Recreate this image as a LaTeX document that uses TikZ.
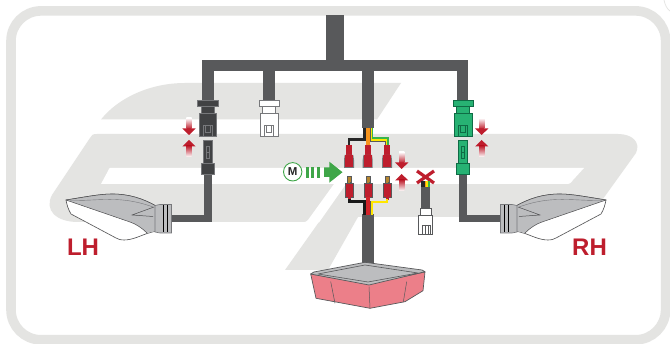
\documentclass[tikz,border=0pt]{standalone}
\usepackage{fontspec}
\setmainfont{Liberation Sans}
\definecolor{bggray}{HTML}{E4E4E2}
\definecolor{wire}{HTML}{58595B}
\definecolor{conndark}{HTML}{414244}
\definecolor{connedge}{HTML}{77787B}
\definecolor{conngreen}{HTML}{27B273}
\definecolor{greenedge}{HTML}{0F6B45}
\definecolor{redmain}{HTML}{BE1E2D}
\definecolor{mgreen}{HTML}{3FA648}
\definecolor{lampgray}{HTML}{BCBDBF}
\definecolor{lampedge}{HTML}{4D4D4F}
\definecolor{pinklamp}{HTML}{EC7F89}
\definecolor{gold}{HTML}{B5852E}
\definecolor{wirered}{HTML}{D2232A}
\definecolor{wireorange}{HTML}{F7941D}
\definecolor{wireyellow}{HTML}{FFE600}
\definecolor{wiregreen}{HTML}{39B54A}
\tikzset{
  wireline/.style={draw=wire,line width=#1,line cap=butt,line join=miter},
  lamptext/.style={text=redmain,font=\bfseries\fontsize{24}{24}\selectfont,inner sep=0pt},
  bgfill/.style={fill=bggray,draw=none},
  wh/.style={fill=white,draw=none},
  redfill/.style={fill=redmain,draw=none}
}
% female connector: x centre, fill, edge
\newcommand{\femconn}[3]{%
  \begin{scope}[shift={(#1,0)},fill=#2,draw=#3,line width=0.6pt]
    \filldraw (-10.2,100) rectangle (10.2,106);
    \filldraw (-6.5,106) rectangle (6.5,113);
    \filldraw (-8.8,113) rectangle (8.8,136);
    \draw (-4.5,136) -- (-4.5,125) -- (4,125) -- (4,136);
    \draw (-2.8,125.5) rectangle (2.2,132);
  \end{scope}}
% male connector: x centre, fill, edge
\newcommand{\maleconn}[3]{%
  \begin{scope}[shift={(#1,0)},fill=#2,draw=#3,line width=0.6pt]
    \filldraw (-4.2,140) rectangle (4.2,163);
    \draw (-1.6,146) rectangle (1.8,158);
    \draw (-1.6,152) -- (1.8,152);
    \filldraw (-6.5,163) rectangle (6.5,174);
  \end{scope}}
% pair of closing arrows: x centre, y of down tip
\newcommand{\arrowpair}[2]{%
  \begin{scope}[shift={(#1,#2)}]
    \shade[top color=white,middle color=redmain,bottom color=redmain,draw=none] (-2.6,-17) rectangle (2.6,-6);
    \fill[redmain] (-6.6,-6.5) -- (6.6,-6.5) -- (0,0) -- cycle;
    \fill[redmain] (-6.6,11.5) -- (6.6,11.5) -- (0,5) -- cycle;
    \shade[top color=redmain,middle color=redmain,bottom color=white,draw=none] (-2.6,11) rectangle (2.6,22);
  \end{scope}}
% upper bullet connector
\newcommand{\topbullet}[1]{%
  \begin{scope}[shift={(#1,0)}]
    \fill[redmain] (-2.9,145) rectangle (2.9,155);
    \fill[connedge] (-4.3,155) -- (4.3,155) -- (5,160) -- (5,168) -- (-5,168) -- (-5,160) -- cycle;
    \fill[redmain] (-4.1,155) rectangle (4.1,167);
  \end{scope}}
% lower bullet connector
\newcommand{\botbullet}[1]{%
  \begin{scope}[shift={(#1,0)}]
    \filldraw[fill=gold,draw=wire,line width=0.3pt] (-2.2,176.5) rectangle (2.2,182);
    \fill[gold] (-1,182) rectangle (1,184);
    \filldraw[fill=redmain,draw=wire,line width=0.4pt] (-3.7,183) rectangle (3.7,197);
    \fill[redmain] (-1.5,197) rectangle (1.5,200);
  \end{scope}}
% turn-signal lamp
\newcommand{\lampdraw}{%
  \filldraw[fill=white,draw=lampedge,line width=0.6pt]
    (66,200) .. controls (85,197) and (100,194) .. (112,194)
    .. controls (128,194) and (142,198) .. (156,206)
    -- (156,231) -- (147,233.5)
    .. controls (140,236) and (132,240) .. (124,240)
    .. controls (120,240) and (118,239) .. (116,238)
    -- (71,214) .. controls (68,209) and (67,205) .. (66,200) -- cycle;
  \fill[lampgray,draw=none]
    (66,200) .. controls (85,197) and (100,194) .. (112,194)
    .. controls (128,194) and (142,198) .. (156,206)
    -- (156,231) -- (147,233)
    .. controls (142,228) and (136,224) .. (130,222)
    -- cycle;
  \draw[lampedge,line width=0.5pt]
    (66,200) .. controls (85,197) and (100,194) .. (112,194)
    .. controls (128,194) and (142,198) .. (156,206);
  \draw[lampedge,line width=0.5pt] (66,200) -- (130,222) .. controls (136,224) and (142,228) .. (147,233);
  \draw[connedge,line width=0.4pt] (70,200.5) .. controls (100,201) and (120,195) .. (153,207);
  \draw[lampedge,line width=0.5pt] (154,207) -- (132,215) -- (153,216.5);
  \filldraw[fill=lampgray,draw=connedge,line width=0.6pt]
    (155,205.5) -- (160,204.5) -- (171.5,204.5) -- (171.5,233) -- (160,233) -- (155,232) -- cycle;
  \draw[black,line width=0.9pt] (163.5,205) -- (163.5,232.5);
  \draw[black,line width=0.9pt] (167.7,205) -- (167.7,232.5);
}
\begin{document}
\begin{tikzpicture}[x=1pt,y=-1pt]
\useasboundingbox (0,0) rectangle (670,344);
\fill[white] (0,0) rectangle (670,344);

% background logo
\fill[bgfill] (101,119.5) .. controls (118,98) and (150,83) .. (185,83) -- (401,83) -- (377,119.5) -- cycle;
\fill[bgfill] (90,138) .. controls (91,135) and (93,134) .. (97,134) -- (618,134)
  .. controls (632,134) and (641,142) .. (636,153)
  -- (590,217) -- (358,217) -- (328,270) -- (285,270) -- (319,222)
  -- (78,222) .. controls (56,222) and (44,210) .. (52,195) -- cycle;
\fill[wh] (110,168) -- (584,168) -- (573,180) .. controls (571,183) and (570,184) .. (566,184) -- (101,184)
  -- (108,171) .. controls (109,169) and (109,168) .. (110,168) -- cycle;
\fill[wh] (303,222.5) .. controls (306,222) and (307,221) .. (308,220) -- (334,184) -- (346,184) -- (319,222.5) -- cycle;

% frame
\draw[bggray,line width=9.6pt,rounded corners=30pt] (11,10.9) rectangle (665.6,339.8);
\draw[bggray,line width=0.7pt] (664,0) .. controls (665,5) and (667,9) .. (670,11);

% harness
\fill[wire] (325.7,15) rectangle (344,71);
\fill[wire] (202,60) rectangle (468,71);
\fill[wire] (202,60) rectangle (213.5,101);
\fill[wire] (263,60) rectangle (275,101);
\fill[wire] (362,60) rectangle (374,128);
\fill[wire] (457,60) rectangle (468,101);
\fill[wire] (362,214) rectangle (374,266);

% side harness tails
\draw[wireline=7.6pt] (171,218.6) -| (207.9,174);
\draw[wireline=7.6pt] (501,218.6) -| (463,174);

% connectors
\femconn{207.8}{conndark}{connedge}
\maleconn{207.7}{conndark}{connedge}
\femconn{269}{white}{connedge}
\femconn{463}{conngreen}{greenedge}
\maleconn{462.7}{conngreen}{greenedge}

% arrows
\arrowpair{189}{135}
\arrowpair{481.7}{135}
\arrowpair{401.7}{169}

% upper branch wires
\draw[black!85,line width=2.6pt] (364.5,128) -- (364.5,139.5) -- (348.9,139.5) -- (348.9,146);
\draw[wireorange,line width=3.6pt] (367.8,128) -- (367.8,146);
\draw[wiregreen,line width=1.3pt] (372.8,128) -- (372.8,138) -- (388,138) -- (388,146);
\draw[wireyellow,line width=1.5pt] (371.2,128) -- (371.2,140) -- (386.3,140) -- (386.3,146);
\draw[wire,line width=0.4pt] (369.8,128) -- (369.8,141.5) -- (385,141.5) -- (385,146);

% bullets
\topbullet{349}
\topbullet{367.7}
\topbullet{387}
\botbullet{349}
\botbullet{368}
\botbullet{387}

% lower branch wires
\draw[black!90,line width=3pt] (349,199) -- (349,201.8) -- (364,201.8) -- (364,215);
\draw[wirered,line width=4.2pt] (368,197) -- (368,215);
\draw[wire,line width=2.8pt] (387,199) -- (387,202) -- (371.8,202) -- (371.8,215);
\draw[wireyellow,line width=1.7pt] (387,199) -- (387,202) -- (371.8,202) -- (371.8,215);

% M symbol and green arrow
\node[circle,draw=mgreen,fill=white,line width=0.9pt,minimum size=18.4pt,inner sep=0pt,font=\bfseries\fontsize{11.5}{12}\selectfont,text=black!85] (mot) at (292.7,171.8) {M};
\foreach \xa/\xb in {306/309.3,311.3/314.4,316.7/320} \fill[mgreen] (\xa,167) rectangle (\xb,177.7);
\fill[mgreen] (324,167.5) -- (329.3,167.5) -- (329.3,161.7) -- (342.5,172.2) -- (329.3,182.7) -- (329.3,177) -- (324,177) -- cycle;

% disconnected plug
\draw[redmain,line width=3.2pt] (417,171) -- (434,183);
\draw[redmain,line width=3.2pt] (434,171) -- (417,183);
\fill[wire] (421,187) rectangle (430,209);
\fill[black!85] (421,181.5) rectangle (424.5,187.5);
\fill[wireorange] (424.5,181.5) rectangle (426,187.5);
\fill[wireyellow] (426,181.5) rectangle (427.8,187.5);
\fill[wiregreen] (427.8,181.5) rectangle (430,187.5);
\filldraw[fill=white,draw=wire,line width=0.5pt] (420.2,208) rectangle (431,215);
\filldraw[fill=white,draw=wire,line width=0.6pt] (418.3,215) rectangle (432.7,234.5);
\draw[wire,line width=0.5pt] (422.5,234.5) -- (422.5,225) -- (430.5,225) -- (430.5,234.5);
\draw[wire,line width=0.5pt] (425,225) -- (425,234.5) (428,225) -- (428,234.5);

% tail light
\filldraw[fill=pinklamp,draw=wire,line width=0.7pt,line join=round]
  (310.7,274) -- (368,284) -- (425,272) -- (423,290.7) -- (405,301.7) -- (370,308.3) -- (316,298.3) -- cycle;
\draw[wire,line width=0.5pt] (330.7,281.7) -- (335,303.3);
\draw[wire,line width=0.5pt] (369,286.7) -- (370,308);
\draw[wire,line width=0.5pt] (406.7,281.7) -- (403.3,302);
\filldraw[fill=lampgray,draw=wire,line width=0.7pt,line join=round]
  (310.7,274) -- (314,272) -- (365,262.3) -- (422,270) -- (425,271.7) -- (369,285) -- cycle;
\draw[wire,line width=0.6pt,line join=round] (318,274) -- (365,265) -- (418,273) -- (368,282) -- cycle;

% side lamps
\lampdraw
\begin{scope}[xscale=-1,xshift=-672pt]
  \lampdraw
\end{scope}

% labels
\node[lamptext] (lh) at (83,247.7) {LH};
\node[lamptext] (rh) at (589.5,247.7) {RH};
\end{tikzpicture}
\end{document}
